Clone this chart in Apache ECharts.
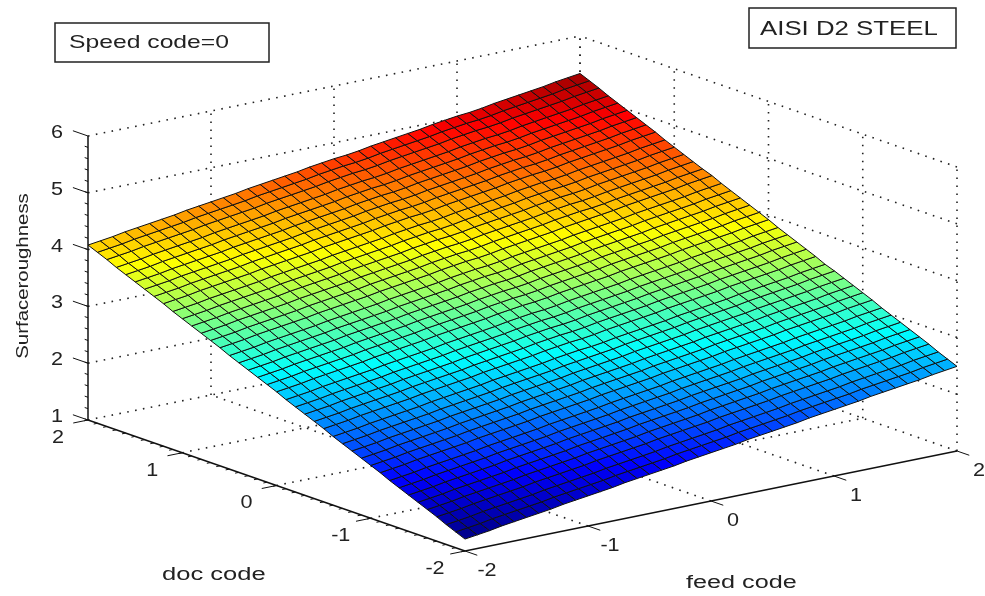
<!DOCTYPE html>
<html>
<head>
<meta charset="utf-8">
<style>html,body{margin:0;padding:0;background:#fff}#c{width:985px;height:596px}</style>
<script src="https://cdn.jsdelivr.net/npm/echarts@6/dist/echarts.min.js"></script>
</head>
<body>
<div id="c"></div>
<script>
const feedTicks = [-2, -1, 0, 1, 2];
const docTicks = [-2, -1, 0, 1, 2];
const zTicks = [1, 2, 3, 4, 5, 6];
const meshCodes = [-2,-1.9,-1.8,-1.7,-1.6,-1.5,-1.4,-1.3,-1.2,-1.1,-1,-0.9,-0.8,-0.7,-0.6,-0.5,-0.4,-0.3,-0.2,-0.1,0,0.1,0.2,0.3,0.4,0.5,0.6,0.7,0.8,0.9,1,1.1,1.2,1.3,1.4,1.5,1.6,1.7,1.8,1.9,2];
// surface roughness, one row per doc code (-2 to 2), one column per feed code (-2 to 2)
const roughness = [
[1.21,1.24,1.27,1.31,1.34,1.37,1.40,1.43,1.47,1.50,1.53,1.56,1.59,1.63,1.66,1.69,1.72,1.75,1.79,1.82,1.85,1.88,1.91,1.95,1.98,2.01,2.04,2.07,2.11,2.14,2.17,2.20,2.23,2.27,2.30,2.33,2.36,2.39,2.43,2.46,2.49],
[1.28,1.31,1.34,1.38,1.41,1.44,1.47,1.50,1.54,1.57,1.60,1.63,1.66,1.70,1.73,1.76,1.79,1.82,1.86,1.89,1.92,1.95,1.98,2.02,2.05,2.08,2.11,2.14,2.18,2.21,2.24,2.27,2.30,2.34,2.37,2.40,2.43,2.46,2.50,2.53,2.56],
[1.35,1.38,1.41,1.45,1.48,1.51,1.54,1.57,1.61,1.64,1.67,1.70,1.73,1.77,1.80,1.83,1.86,1.89,1.93,1.96,1.99,2.02,2.05,2.09,2.12,2.15,2.18,2.21,2.25,2.28,2.31,2.34,2.37,2.41,2.44,2.47,2.50,2.53,2.57,2.60,2.63],
[1.43,1.46,1.49,1.53,1.56,1.59,1.62,1.65,1.69,1.72,1.75,1.78,1.81,1.85,1.88,1.91,1.94,1.97,2.01,2.04,2.07,2.10,2.13,2.17,2.20,2.23,2.26,2.29,2.33,2.36,2.39,2.42,2.45,2.49,2.52,2.55,2.58,2.61,2.65,2.68,2.71],
[1.50,1.53,1.56,1.60,1.63,1.66,1.69,1.72,1.76,1.79,1.82,1.85,1.88,1.92,1.95,1.98,2.01,2.04,2.08,2.11,2.14,2.17,2.20,2.24,2.27,2.30,2.33,2.36,2.40,2.43,2.46,2.49,2.52,2.56,2.59,2.62,2.65,2.68,2.72,2.75,2.78],
[1.57,1.60,1.63,1.67,1.70,1.73,1.76,1.79,1.83,1.86,1.89,1.92,1.95,1.99,2.02,2.05,2.08,2.11,2.15,2.18,2.21,2.24,2.27,2.31,2.34,2.37,2.40,2.43,2.47,2.50,2.53,2.56,2.59,2.63,2.66,2.69,2.72,2.75,2.79,2.82,2.85],
[1.64,1.67,1.70,1.74,1.77,1.80,1.83,1.86,1.90,1.93,1.96,1.99,2.02,2.06,2.09,2.12,2.15,2.18,2.22,2.25,2.28,2.31,2.34,2.38,2.41,2.44,2.47,2.50,2.54,2.57,2.60,2.63,2.66,2.70,2.73,2.76,2.79,2.82,2.86,2.89,2.92],
[1.71,1.74,1.77,1.81,1.84,1.87,1.90,1.93,1.97,2.00,2.03,2.06,2.09,2.13,2.16,2.19,2.22,2.25,2.29,2.32,2.35,2.38,2.41,2.45,2.48,2.51,2.54,2.57,2.61,2.64,2.67,2.70,2.73,2.77,2.80,2.83,2.86,2.89,2.93,2.96,2.99],
[1.78,1.81,1.84,1.88,1.91,1.94,1.97,2.00,2.04,2.07,2.10,2.13,2.16,2.20,2.23,2.26,2.29,2.32,2.36,2.39,2.42,2.45,2.48,2.52,2.55,2.58,2.61,2.64,2.68,2.71,2.74,2.77,2.80,2.84,2.87,2.90,2.93,2.96,3.00,3.03,3.06],
[1.86,1.89,1.92,1.96,1.99,2.02,2.05,2.08,2.12,2.15,2.18,2.21,2.24,2.28,2.31,2.34,2.37,2.40,2.44,2.47,2.50,2.53,2.56,2.60,2.63,2.66,2.69,2.72,2.76,2.79,2.82,2.85,2.88,2.92,2.95,2.98,3.01,3.04,3.08,3.11,3.14],
[1.93,1.96,1.99,2.03,2.06,2.09,2.12,2.15,2.19,2.22,2.25,2.28,2.31,2.35,2.38,2.41,2.44,2.47,2.51,2.54,2.57,2.60,2.63,2.67,2.70,2.73,2.76,2.79,2.83,2.86,2.89,2.92,2.95,2.99,3.02,3.05,3.08,3.11,3.15,3.18,3.21],
[2.00,2.03,2.06,2.10,2.13,2.16,2.19,2.22,2.26,2.29,2.32,2.35,2.38,2.42,2.45,2.48,2.51,2.54,2.58,2.61,2.64,2.67,2.70,2.74,2.77,2.80,2.83,2.86,2.90,2.93,2.96,2.99,3.02,3.06,3.09,3.12,3.15,3.18,3.22,3.25,3.28],
[2.07,2.10,2.13,2.17,2.20,2.23,2.26,2.29,2.33,2.36,2.39,2.42,2.45,2.49,2.52,2.55,2.58,2.61,2.65,2.68,2.71,2.74,2.77,2.81,2.84,2.87,2.90,2.93,2.97,3.00,3.03,3.06,3.09,3.13,3.16,3.19,3.22,3.25,3.29,3.32,3.35],
[2.14,2.17,2.20,2.24,2.27,2.30,2.33,2.36,2.40,2.43,2.46,2.49,2.52,2.56,2.59,2.62,2.65,2.68,2.72,2.75,2.78,2.81,2.84,2.88,2.91,2.94,2.97,3.00,3.04,3.07,3.10,3.13,3.16,3.20,3.23,3.26,3.29,3.32,3.36,3.39,3.42],
[2.21,2.24,2.27,2.31,2.34,2.37,2.40,2.43,2.47,2.50,2.53,2.56,2.59,2.63,2.66,2.69,2.72,2.75,2.79,2.82,2.85,2.87,2.90,2.94,2.97,3.00,3.03,3.06,3.10,3.13,3.16,3.19,3.22,3.26,3.29,3.32,3.35,3.38,3.42,3.45,3.48],
[2.29,2.32,2.35,2.39,2.42,2.45,2.48,2.51,2.55,2.58,2.61,2.64,2.67,2.71,2.74,2.77,2.80,2.83,2.87,2.90,2.93,2.95,2.98,3.02,3.05,3.08,3.11,3.14,3.18,3.21,3.24,3.27,3.30,3.34,3.37,3.40,3.43,3.46,3.50,3.53,3.56],
[2.36,2.39,2.42,2.46,2.49,2.52,2.55,2.58,2.62,2.65,2.68,2.71,2.74,2.78,2.81,2.84,2.87,2.90,2.94,2.97,3.00,3.02,3.05,3.09,3.12,3.15,3.18,3.21,3.25,3.28,3.31,3.34,3.37,3.41,3.44,3.47,3.50,3.53,3.57,3.60,3.63],
[2.43,2.46,2.49,2.53,2.56,2.59,2.62,2.65,2.69,2.72,2.75,2.78,2.81,2.85,2.88,2.91,2.94,2.97,3.01,3.04,3.07,3.09,3.12,3.16,3.19,3.22,3.25,3.28,3.32,3.35,3.38,3.41,3.44,3.48,3.51,3.54,3.57,3.60,3.64,3.67,3.70],
[2.50,2.53,2.56,2.60,2.63,2.66,2.69,2.72,2.76,2.79,2.82,2.85,2.88,2.92,2.95,2.98,3.01,3.04,3.08,3.11,3.14,3.16,3.19,3.23,3.26,3.29,3.32,3.35,3.39,3.42,3.45,3.48,3.51,3.55,3.58,3.61,3.64,3.67,3.71,3.74,3.77],
[2.57,2.60,2.63,2.67,2.70,2.73,2.76,2.79,2.83,2.86,2.89,2.92,2.95,2.99,3.02,3.05,3.08,3.11,3.15,3.18,3.21,3.23,3.26,3.30,3.33,3.36,3.39,3.42,3.46,3.49,3.52,3.55,3.58,3.62,3.65,3.68,3.71,3.74,3.78,3.81,3.84],
[2.65,2.68,2.71,2.75,2.78,2.81,2.84,2.87,2.91,2.94,2.97,3.00,3.03,3.07,3.10,3.13,3.16,3.19,3.23,3.26,3.29,3.31,3.34,3.38,3.41,3.44,3.47,3.50,3.54,3.57,3.60,3.63,3.66,3.70,3.73,3.76,3.79,3.82,3.86,3.89,3.92],
[2.72,2.75,2.78,2.82,2.85,2.88,2.91,2.94,2.98,3.01,3.04,3.07,3.10,3.14,3.17,3.20,3.23,3.26,3.30,3.33,3.36,3.38,3.41,3.45,3.48,3.51,3.54,3.57,3.61,3.64,3.67,3.70,3.73,3.77,3.80,3.83,3.86,3.89,3.93,3.96,3.99],
[2.79,2.82,2.85,2.89,2.92,2.95,2.98,3.01,3.05,3.08,3.11,3.14,3.17,3.21,3.24,3.27,3.30,3.33,3.37,3.40,3.43,3.45,3.48,3.52,3.55,3.58,3.61,3.64,3.68,3.71,3.74,3.77,3.80,3.84,3.87,3.90,3.93,3.96,4.00,4.03,4.06],
[2.86,2.89,2.92,2.96,2.99,3.02,3.05,3.08,3.12,3.15,3.18,3.21,3.24,3.28,3.31,3.34,3.37,3.40,3.44,3.47,3.50,3.52,3.55,3.59,3.62,3.65,3.68,3.71,3.75,3.78,3.81,3.84,3.87,3.91,3.94,3.97,4.00,4.03,4.07,4.10,4.13],
[2.93,2.96,2.99,3.03,3.06,3.09,3.12,3.15,3.19,3.22,3.25,3.28,3.31,3.35,3.38,3.41,3.44,3.47,3.51,3.54,3.57,3.59,3.62,3.66,3.69,3.72,3.75,3.78,3.82,3.85,3.88,3.91,3.94,3.98,4.01,4.04,4.07,4.10,4.14,4.17,4.20],
[3.00,3.03,3.06,3.10,3.13,3.16,3.19,3.22,3.26,3.29,3.32,3.35,3.38,3.42,3.45,3.48,3.51,3.54,3.58,3.61,3.64,3.66,3.69,3.73,3.76,3.79,3.82,3.85,3.89,3.92,3.95,3.98,4.01,4.05,4.08,4.11,4.14,4.17,4.21,4.24,4.27],
[3.08,3.11,3.14,3.18,3.21,3.24,3.27,3.30,3.34,3.37,3.40,3.43,3.46,3.50,3.53,3.56,3.59,3.62,3.66,3.69,3.72,3.74,3.77,3.81,3.84,3.87,3.90,3.93,3.97,4.00,4.03,4.06,4.09,4.13,4.16,4.19,4.22,4.25,4.29,4.32,4.35],
[3.15,3.18,3.21,3.25,3.28,3.31,3.34,3.37,3.41,3.44,3.47,3.50,3.53,3.57,3.60,3.63,3.66,3.69,3.73,3.76,3.79,3.81,3.84,3.88,3.91,3.94,3.97,4.00,4.04,4.07,4.10,4.12,4.15,4.19,4.22,4.25,4.28,4.31,4.35,4.38,4.41],
[3.22,3.25,3.28,3.32,3.35,3.38,3.41,3.44,3.48,3.51,3.54,3.57,3.60,3.64,3.67,3.70,3.73,3.76,3.80,3.83,3.86,3.88,3.91,3.95,3.98,4.01,4.04,4.07,4.11,4.14,4.17,4.19,4.22,4.26,4.29,4.32,4.35,4.38,4.42,4.45,4.48],
[3.29,3.32,3.35,3.39,3.42,3.45,3.48,3.51,3.55,3.58,3.61,3.64,3.67,3.71,3.74,3.77,3.80,3.83,3.87,3.90,3.93,3.95,3.98,4.02,4.05,4.08,4.11,4.14,4.18,4.21,4.24,4.26,4.29,4.33,4.36,4.39,4.42,4.45,4.49,4.52,4.55],
[3.36,3.39,3.42,3.46,3.49,3.52,3.55,3.58,3.62,3.65,3.68,3.71,3.74,3.78,3.81,3.84,3.87,3.90,3.94,3.97,4.00,4.02,4.05,4.09,4.12,4.15,4.18,4.21,4.25,4.28,4.31,4.33,4.36,4.40,4.43,4.46,4.49,4.52,4.56,4.59,4.62],
[3.43,3.46,3.49,3.53,3.56,3.59,3.62,3.65,3.69,3.72,3.75,3.78,3.81,3.85,3.88,3.91,3.94,3.97,4.01,4.04,4.07,4.09,4.12,4.16,4.19,4.22,4.25,4.28,4.32,4.35,4.38,4.40,4.43,4.47,4.50,4.53,4.56,4.59,4.63,4.66,4.69],
[3.51,3.54,3.57,3.61,3.64,3.67,3.70,3.73,3.77,3.80,3.83,3.86,3.89,3.93,3.96,3.99,4.02,4.05,4.09,4.12,4.15,4.17,4.20,4.24,4.27,4.30,4.33,4.36,4.40,4.43,4.46,4.48,4.51,4.55,4.58,4.61,4.64,4.67,4.71,4.74,4.77],
[3.58,3.61,3.64,3.68,3.71,3.74,3.77,3.80,3.84,3.87,3.90,3.93,3.96,4.00,4.03,4.06,4.09,4.12,4.16,4.19,4.22,4.24,4.27,4.31,4.34,4.37,4.40,4.43,4.47,4.50,4.53,4.55,4.58,4.62,4.65,4.68,4.71,4.74,4.78,4.81,4.84],
[3.65,3.68,3.71,3.75,3.78,3.81,3.84,3.87,3.91,3.94,3.97,4.00,4.03,4.07,4.10,4.13,4.16,4.19,4.23,4.26,4.29,4.31,4.34,4.38,4.41,4.44,4.47,4.50,4.54,4.57,4.60,4.62,4.65,4.69,4.72,4.75,4.78,4.81,4.85,4.88,4.91],
[3.72,3.75,3.78,3.82,3.85,3.88,3.91,3.94,3.98,4.01,4.04,4.07,4.10,4.14,4.17,4.20,4.23,4.26,4.30,4.33,4.36,4.38,4.41,4.45,4.48,4.51,4.54,4.57,4.61,4.64,4.67,4.69,4.72,4.76,4.79,4.82,4.85,4.88,4.92,4.95,4.98],
[3.79,3.82,3.85,3.89,3.92,3.95,3.98,4.01,4.05,4.08,4.11,4.14,4.17,4.21,4.24,4.27,4.30,4.33,4.37,4.40,4.43,4.45,4.48,4.52,4.55,4.58,4.61,4.64,4.68,4.71,4.74,4.76,4.79,4.83,4.86,4.89,4.92,4.95,4.99,5.02,5.05],
[3.86,3.89,3.92,3.96,3.99,4.02,4.05,4.08,4.12,4.15,4.18,4.21,4.24,4.28,4.31,4.34,4.37,4.40,4.44,4.47,4.50,4.52,4.55,4.59,4.62,4.65,4.68,4.71,4.75,4.78,4.81,4.83,4.86,4.90,4.93,4.96,4.99,5.02,5.06,5.09,5.12],
[3.94,3.97,4.00,4.04,4.07,4.10,4.13,4.16,4.20,4.23,4.26,4.29,4.32,4.36,4.39,4.42,4.45,4.48,4.52,4.55,4.58,4.60,4.63,4.67,4.70,4.73,4.76,4.79,4.83,4.86,4.89,4.91,4.94,4.98,5.01,5.04,5.07,5.10,5.14,5.17,5.20],
[4.01,4.04,4.07,4.11,4.14,4.17,4.20,4.23,4.27,4.30,4.33,4.36,4.39,4.43,4.46,4.49,4.52,4.55,4.59,4.62,4.65,4.67,4.70,4.74,4.77,4.80,4.83,4.86,4.90,4.93,4.96,4.98,5.01,5.05,5.08,5.11,5.14,5.17,5.21,5.24,5.27],
[4.08,4.11,4.14,4.18,4.21,4.24,4.27,4.30,4.34,4.37,4.40,4.43,4.46,4.50,4.53,4.56,4.59,4.62,4.66,4.69,4.72,4.74,4.77,4.81,4.84,4.87,4.90,4.93,4.97,5.00,5.03,5.05,5.08,5.12,5.15,5.18,5.21,5.24,5.28,5.31,5.34]
];

const jet = ['#00008f','#0000ff','#0080ff','#00ffff','#80ff80','#ffff00','#ff8000','#ff0000','#800000'];
const TXT = '#222';

// fixed orthographic view of the 3D box: data space -> page space
function project(f, d, z) {
  return [522.5 + 123 * f - 94.25 * d, 435.5 - 25 * f - 32.75 * d - 56.8 * (z - 1)];
}

const fMin = feedTicks[0], fMax = feedTicks[feedTicks.length - 1];
const dMin = docTicks[0], dMax = docTicks[docTicks.length - 1];
const zMin = zTicks[0], zMax = zTicks[zTicks.length - 1];

// dotted grid on the floor and the two back walls
const gridSegs = [];
feedTicks.forEach(f => { if (f > fMin) {
  gridSegs.push([f, dMin, zMin, f, dMax, zMin]);
  gridSegs.push([f, dMax, zMin, f, dMax, zMax]);
}});
docTicks.forEach(d => {
  if (d > dMin) gridSegs.push([fMin, d, zMin, fMax, d, zMin]);
  gridSegs.push([fMax, d, zMin, fMax, d, zMax]);
});
zTicks.forEach(z => { if (z > zMin) {
  gridSegs.push([fMin, dMax, z, fMax, dMax, z]);
  gridSegs.push([fMax, dMin, z, fMax, dMax, z]);
}});

// solid axes and their tick marks
const axisSegs = [
  [fMin, dMax, zMin, fMin, dMax, zMax, 1.5],
  [fMin, dMin, zMin, fMin, dMax, zMin, 1.5],
  [fMin, dMin, zMin, fMax, dMin, zMin, 1.5]
];
zTicks.forEach(z => axisSegs.push([fMin, dMax, z, fMin, dMax + 0.16, z, 1]));
docTicks.forEach(d => axisSegs.push([fMin, d, zMin, fMin - 0.12, d, zMin, 1]));
feedTicks.forEach(f => axisSegs.push([f, dMin, zMin, f, dMin - 0.13, zMin, 1]));
// short minor ticks every 0.1 on the z and doc axes
meshCodes.forEach(c => {
  axisSegs.push([fMin, c, zMin, fMin - 0.03, c, zMin, 1]);
  if (c < 0.5) axisSegs.push([fMin, dMax, zMin + (c + 2) * 2, fMin, dMax + 0.035, zMin + (c + 2) * 2, 1]);
});

// tick labels: [f, d, z, label, dx, dy]
const tickLabels = [];
zTicks.forEach(z => tickLabels.push([fMin, dMax, z, String(z), -31, -3]));
docTicks.forEach(d => tickLabels.push([fMin, d, zMin, String(d), -30, 18]));
feedTicks.forEach(f => tickLabels.push([f, dMin, zMin, String(f), 22, 20]));

// one record per mesh cell
const cells = [];
for (let j = 0; j < roughness.length - 1; j++) {
  for (let i = 0; i < roughness[j].length - 1; i++) {
    cells.push([i, j, roughness[j][i]]);
  }
}

function segItem(params, api) {
  const a = api.coord(project(api.value(0), api.value(1), api.value(2)));
  const b = api.coord(project(api.value(3), api.value(4), api.value(5)));
  return { a, b };
}

const chart = echarts.init(document.getElementById('c'), null, { renderer: 'canvas' });
chart.setOption({
  animation: false,
  backgroundColor: '#fff',
  grid: { left: 0, right: 0, top: 0, bottom: 0 },
  xAxis: { type: 'value', min: 0, max: 985, show: false },
  yAxis: { type: 'value', min: 0, max: 596, inverse: true, show: false },
  visualMap: {
    show: false, seriesIndex: 1, dimension: 2,
    min: 1.21, max: 5.4,
    inRange: { color: jet }
  },
  series: [
    {
      type: 'custom', clip: false, silent: true, z: 1, data: gridSegs,
      renderItem(params, api) {
        const { a, b } = segItem(params, api);
        return { type: 'line', shape: { x1: a[0], y1: a[1], x2: b[0], y2: b[1] },
          style: { stroke: '#222', lineWidth: 1.6, lineDash: [1.6, 6.4], fill: null } };
      }
    },
    {
      type: 'custom', clip: false, silent: true, z: 2, progressive: 0, data: cells,
      renderItem(params, api) {
        const i = api.value(0), j = api.value(1);
        const corner = (a, b) => api.coord(project(meshCodes[a], meshCodes[b], roughness[b][a]));
        return { type: 'polygon',
          shape: { points: [corner(i, j), corner(i + 1, j), corner(i + 1, j + 1), corner(i, j + 1)] },
          style: { fill: api.visual('color'), stroke: '#111', lineWidth: 1 } };
      }
    },
    {
      type: 'custom', clip: false, silent: true, z: 3, data: axisSegs,
      renderItem(params, api) {
        const { a, b } = segItem(params, api);
        return { type: 'line', shape: { x1: a[0], y1: a[1], x2: b[0], y2: b[1] },
          style: { stroke: '#111', lineWidth: api.value(6), fill: null } };
      }
    },
    {
      type: 'custom', clip: false, silent: true, z: 4,
      dimensions: ['f', 'd', 'z', { name: 'label', type: 'ordinal' }, 'dx', 'dy'],
      data: tickLabels,
      renderItem(params, api) {
        const row = tickLabels[params.dataIndex];
        const p = api.coord(project(row[0], row[1], row[2]));
        return { type: 'text', x: p[0] + row[4], y: p[1] + row[5], scaleX: 1.2,
          style: { text: row[3], fill: TXT, font: '18px "Liberation Sans"', align: 'center', verticalAlign: 'middle' } };
      }
    }
  ],
  graphic: [
    { type: 'rect', shape: { x: 55, y: 23, width: 214, height: 39 }, style: { fill: '#fff', stroke: '#222', lineWidth: 1.5 } },
    { type: 'rect', shape: { x: 749, y: 8, width: 207, height: 40 }, style: { fill: '#fff', stroke: '#222', lineWidth: 1.5 } },
    { type: 'text', x: 69, y: 43, scaleX: 1.3, style: { text: 'Speed code=0', fill: TXT, font: '19px "Liberation Sans"', align: 'left', verticalAlign: 'middle' } },
    { type: 'text', x: 760, y: 29, scaleX: 1.29, style: { text: 'AISI D2 STEEL', fill: TXT, font: '20px "Liberation Sans"', align: 'left', verticalAlign: 'middle' } },
    { type: 'text', x: 162, y: 575, scaleX: 1.42, style: { text: 'doc code', fill: TXT, font: '18px "Liberation Sans"', align: 'left', verticalAlign: 'middle' } },
    { type: 'text', x: 686, y: 583, scaleX: 1.4, style: { text: 'feed code', fill: TXT, font: '18px "Liberation Sans"', align: 'left', verticalAlign: 'middle' } },
    { type: 'text', x: 23, y: 276, rotation: Math.PI / 2, scaleX: 1.2, style: { text: 'Surfaceroughness', fill: TXT, font: '17px "Liberation Sans"', align: 'center', verticalAlign: 'middle' } }
  ]
});
</script>
</body>
</html>
